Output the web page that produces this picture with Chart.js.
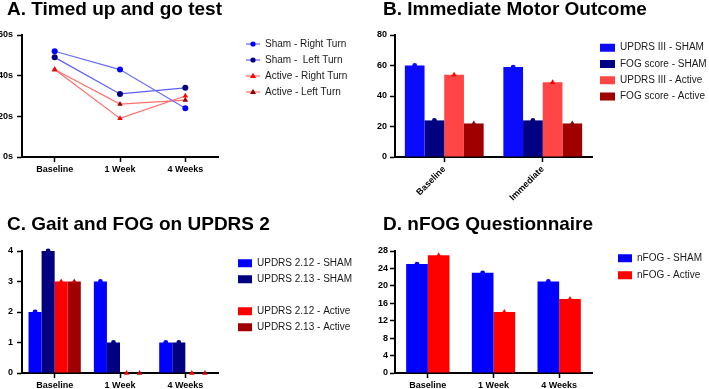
<!DOCTYPE html>
<html>
<head>
<meta charset="utf-8">
<script src="https://cdn.jsdelivr.net/npm/chart.js@4.4.1/dist/chart.umd.min.js"></script>
<style>
  html, body { margin: 0; padding: 0; background: #fff; }
  #wrap { position: relative; width: 709px; height: 389px; overflow: hidden; }
  canvas { position: absolute; }
</style>
</head>
<body>
<div id="wrap">
  <canvas id="chartA" width="355" height="195" style="left:0;top:0;"></canvas>
  <canvas id="chartB" width="354" height="205" style="left:355px;top:0;"></canvas>
  <canvas id="chartC" width="355" height="194" style="left:0;top:195px;"></canvas>
  <canvas id="chartD" width="354" height="194" style="left:355px;top:195px;"></canvas>
</div>
<script>
// A. timed up and go (seconds)
var weekLabels = ['Baseline', '1 Week', '4 Weeks'];
var shamRightTurn = [52, 43, 24];
var shamLeftTurn = [49, 31, 34];
var activeRightTurn = [43, 19, 30];
var activeLeftTurn = [43, 26, 28];
var tugTicks = [0, 20, 40, 60];

// B. immediate motor outcome
var motorLabels = ['Baseline', 'Immediate'];
var updrs3Sham = [60, 59];
var fogSham = [24, 24];
var updrs3Active = [54, 49];
var fogActive = [22, 22];
var motorTicks = [0, 20, 40, 60, 80];

// C. gait and FOG items
var updrs212Sham = [2, 3, 1];
var updrs213Sham = [4, 1, 1];
var updrs212Active = [3, 0, 0];
var updrs213Active = [3, 0, 0];
var gaitTicks = [0, 1, 2, 3, 4];

// D. nFOG questionnaire
var nfogSham = [25, 23, 21];
var nfogActive = [27, 14, 17];
var nfogTicks = [0, 4, 8, 12, 16, 20, 24, 28];

Chart.defaults.font.family = 'Arial, "Liberation Sans", sans-serif';
Chart.defaults.color = '#000';
Chart.defaults.animation = false;

function drawMarker(ctx, style, x, y, r, color) {
    ctx.save();
    ctx.fillStyle = color;
    ctx.beginPath();
    if (style === 'triangle') {
        ctx.moveTo(x, y - r * 1.25);
        ctx.lineTo(x + r * 1.15, y + r * 0.75);
        ctx.lineTo(x - r * 1.15, y + r * 0.75);
        ctx.closePath();
    } else {
        ctx.arc(x, y, r, 0, Math.PI * 2);
    }
    ctx.fill();
    ctx.restore();
}

// little "line + marker" icon for the line chart legend
function legendIcon(style, lineColor, markColor) {
    var c = document.createElement('canvas');
    c.width = 14;
    c.height = 8;
    var g = c.getContext('2d');
    g.strokeStyle = lineColor;
    g.lineWidth = 1.2;
    g.beginPath();
    g.moveTo(0, 4);
    g.lineTo(14, 4);
    g.stroke();
    drawMarker(g, style, 7, 4, 2.6, markColor);
    return c;
}

// puts the title, chart area and legend where the figure has them
var panelLayout = {
    id: 'panelLayout',
    beforeLayout: function (chart, args, opts) {
        var lg = chart.legend;
        if (!lg || lg._panelFit) return;
        var fit = lg.fit;
        lg.fit = function () {
            fit.call(this);
            this.width = chart.width - opts.areaRight;
        };
        lg._panelFit = true;
    },
    afterLayout: function (chart, args, opts) {
        var lg = chart.legend;
        var pad = lg.options.labels.padding;
        var w = lg.width, h = lg.height;
        lg.left = opts.legendX - pad;
        lg.right = lg.left + w;
        lg.top = opts.legendY - 5 - pad;
        lg.bottom = lg.top + h;
        var tb = chart.titleBlock;
        if (tb) {
            tb.left = opts.titleX;
            tb.right = chart.width;
        }
    }
};

// small mean markers sitting on top of each bar
var capMarkers = {
    id: 'capMarkers',
    afterDatasetsDraw: function (chart) {
        var ctx = chart.ctx;
        chart.data.datasets.forEach(function (ds, i) {
            if (!ds.markerStyle) return;
            chart.getDatasetMeta(i).data.forEach(function (bar) {
                drawMarker(ctx, ds.markerStyle, bar.x, bar.y, 2.4, ds.markerColor);
            });
        });
    }
};

function yAxis(ticks, width, suffix, pad) {
    return {
        min: ticks[0],
        max: ticks[ticks.length - 1],
        afterBuildTicks: function (s) {
            s.ticks = ticks.map(function (v) { return { value: v }; });
        },
        afterFit: function (s) { s.width = width; },
        grid: { drawOnChartArea: false, drawTicks: true, tickLength: 5, tickColor: '#000', tickWidth: 1.5 },
        border: { color: '#000', width: 2 },
        ticks: {
            font: { size: 9, weight: 'bold' }, color: '#000', padding: pad,
            callback: function (v) { return v + suffix; }
        }
    };
}

function xAxis(height, rotate) {
    return {
        offset: true,
        afterFit: function (s) { s.height = height; },
        grid: { offset: false, drawOnChartArea: false, drawTicks: true, tickLength: 5, tickColor: '#000', tickWidth: 1.5 },
        border: { color: '#000', width: 2 },
        ticks: {
            font: { size: 9, weight: 'bold' }, color: '#000', padding: 2,
            autoSkip: false, maxRotation: rotate, minRotation: rotate
        }
    };
}

function titleOpts(text, padTop, padBottom) {
    return {
        display: true, text: text, align: 'start', color: '#000',
        font: { size: 19, weight: 'bold', lineHeight: 1 },
        padding: { top: padTop, bottom: padBottom }
    };
}

function legendOpts(pad, boxW, extra) {
    var o = {
        display: true, position: 'right', align: 'start',
        onClick: function () {},
        labels: { color: '#1a1a1a', font: { size: 10 }, padding: pad, boxWidth: boxW, boxHeight: 8 }
    };
    if (extra) Object.assign(o.labels, extra);
    return o;
}

function barSet(label, values, color, marker, markerColor) {
    return {
        label: label, data: values,
        backgroundColor: color, borderColor: color, borderWidth: 0,
        markerStyle: marker, markerColor: markerColor || color
    };
}

var noPad = { left: 0, right: 0, top: 0, bottom: 0 };

// ---- A ----
var tugStyles = [
    { label: 'Sham - Right Turn', data: shamRightTurn, line: '#6a6aff', mark: '#0000ff', style: 'circle' },
    { label: 'Sham -  Left Turn', data: shamLeftTurn, line: '#5c5cf5', mark: '#000080', style: 'circle' },
    { label: 'Active - Right Turn', data: activeRightTurn, line: '#ff6b6b', mark: '#ff0000', style: 'triangle' },
    { label: 'Active - Left Turn', data: activeLeftTurn, line: '#ff7070', mark: '#990000', style: 'triangle' }
];
var tugIcons = tugStyles.map(function (s) { return legendIcon(s.style, s.line, s.mark); });

new Chart(document.getElementById('chartA'), {
    type: 'line',
    data: {
        labels: weekLabels,
        datasets: tugStyles.map(function (s) {
            return {
                label: s.label, data: s.data,
                borderColor: s.line, borderWidth: 1.2, tension: 0,
                pointStyle: s.style, pointRadius: s.style === 'triangle' ? 3.2 : 3,
                pointBackgroundColor: s.mark, pointBorderColor: s.mark, pointBorderWidth: 0
            };
        })
    },
    options: {
        responsive: false,
        layout: { padding: noPad },
        scales: { x: xAxis(38, 0), y: yAxis(tugTicks, 22, 's', 4) },
        plugins: {
            title: titleOpts('A. Timed up and go test', 0, 16),
            legend: legendOpts(6, 14, {
                usePointStyle: true, pointStyleWidth: 14,
                generateLabels: function (chart) {
                    var items = Chart.defaults.plugins.legend.labels.generateLabels(chart);
                    items.forEach(function (it) { it.pointStyle = tugIcons[it.datasetIndex]; });
                    return items;
                }
            }),
            tooltip: { enabled: false },
            panelLayout: { titleX: 7, areaRight: 218, legendX: 246, legendY: 44 }
        }
    },
    plugins: [panelLayout]
});

// ---- B ----
new Chart(document.getElementById('chartB'), {
    type: 'bar',
    data: {
        labels: motorLabels,
        datasets: [
            barSet('UPDRS III - SHAM', updrs3Sham, '#0a0aff', 'circle'),
            barSet('FOG score - SHAM', fogSham, '#000080', 'circle'),
            barSet('UPDRS III - Active', updrs3Active, '#ff4545', 'triangle', '#ff0000'),
            barSet('FOG score - Active', fogActive, '#a00000', 'triangle', '#8a0000')
        ]
    },
    options: {
        responsive: false,
        datasets: { bar: { barPercentage: 1, categoryPercentage: 0.8 } },
        layout: { padding: noPad },
        scales: { x: xAxis(48, 45), y: yAxis(motorTicks, 40, '', 3) },
        plugins: {
            title: titleOpts('B. Immediate Motor Outcome', 0, 16),
            legend: legendOpts(6.3, 15),
            tooltip: { enabled: false },
            panelLayout: { titleX: 28, areaRight: 237, legendX: 245, legendY: 47.7 }
        }
    },
    plugins: [panelLayout, capMarkers]
});

// ---- C ----
new Chart(document.getElementById('chartC'), {
    type: 'bar',
    data: {
        labels: weekLabels,
        datasets: [
            barSet('UPDRS 2.12 - SHAM', updrs212Sham, '#0000ff', 'circle'),
            barSet('UPDRS 2.13 - SHAM', updrs213Sham, '#000080', 'circle'),
            barSet('UPDRS 2.12 - Active', updrs212Active, '#ff0000', 'triangle'),
            barSet('UPDRS 2.13 - Active', updrs213Active, '#a00000', 'triangle', '#cc0000')
        ]
    },
    options: {
        responsive: false,
        datasets: { bar: { barPercentage: 1, categoryPercentage: 0.8 } },
        layout: { padding: noPad },
        scales: { x: xAxis(16, 0), y: yAxis(gaitTicks, 22, '', 4) },
        plugins: {
            title: titleOpts('C. Gait and FOG on UPDRS 2', 20, 17),
            legend: legendOpts(6, 14, {
                generateLabels: function (chart) {
                    var items = Chart.defaults.plugins.legend.labels.generateLabels(chart);
                    items.splice(2, 0, {
                        text: '', fillStyle: 'rgba(0,0,0,0)', strokeStyle: 'rgba(0,0,0,0)',
                        lineWidth: 0, hidden: false, datasetIndex: -1
                    });
                    return items;
                }
            }),
            tooltip: { enabled: false },
            panelLayout: { titleX: 7, areaRight: 218, legendX: 238, legendY: 68.3 }
        }
    },
    plugins: [panelLayout, capMarkers]
});

// ---- D ----
new Chart(document.getElementById('chartD'), {
    type: 'bar',
    data: {
        labels: weekLabels,
        datasets: [
            barSet('nFOG - SHAM', nfogSham, '#0000ff', 'circle'),
            barSet('nFOG - Active', nfogActive, '#ff0000', 'triangle')
        ]
    },
    options: {
        responsive: false,
        datasets: { bar: { barPercentage: 1, categoryPercentage: 0.66 } },
        layout: { padding: noPad },
        scales: { x: xAxis(16, 0), y: yAxis(nfogTicks, 40, '', 2) },
        plugins: {
            title: titleOpts('D. nFOG Questionnaire', 20.5, 16.5),
            legend: legendOpts(7, 14),
            tooltip: { enabled: false },
            panelLayout: { titleX: 28, areaRight: 237, legendX: 263, legendY: 63.3 }
        }
    },
    plugins: [panelLayout, capMarkers]
});
</script>
</body>
</html>
